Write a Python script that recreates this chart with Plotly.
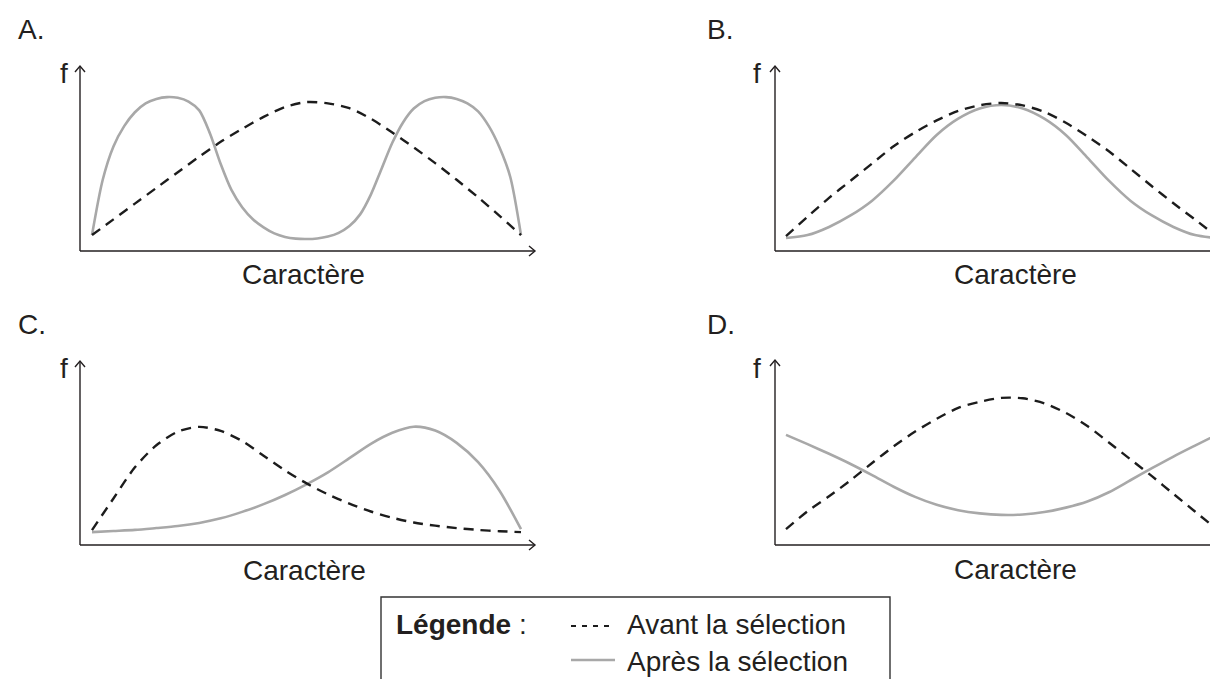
import plotly.graph_objects as go

# ---------------- data (x = Caractère, y = f) ----------------
x_half = [0, 0.5, 1, 1.5, 2, 2.5, 3, 3.5, 4, 4.5, 5, 5.5, 6, 6.5, 7, 7.5, 8, 8.5, 9, 9.5, 10]
x_quarter = [0, 0.25, 0.5, 0.75, 1, 1.25, 1.5, 1.75, 2, 2.25, 2.5, 2.75, 3, 3.25, 3.5, 3.75, 4,
             4.25, 4.5, 4.75, 5, 5.25, 5.5, 5.75, 6, 6.25, 6.5, 6.75, 7, 7.25, 7.5, 7.75, 8,
             8.25, 8.5, 8.75, 9, 9.25, 9.5, 9.75, 10]

a_avant_y = [0.86, 1.71, 2.56, 3.41, 4.26, 5.1, 5.9, 6.6, 7.25, 7.78, 8.05,
             7.98, 7.72, 7.15, 6.4, 5.6, 4.75, 3.85, 2.9, 1.9, 0.86]
a_apres_y = [0.86, 3.85, 5.65, 6.75, 7.5, 7.98, 8.22, 8.32, 8.28, 8.08, 7.6, 6.35, 4.7, 3.3, 2.37,
             1.72, 1.28, 0.95, 0.76, 0.67, 0.65, 0.68, 0.78, 0.98, 1.35, 1.98, 3.05, 4.45, 5.85,
             6.95, 7.7, 8.1, 8.28, 8.32, 8.22, 7.98, 7.55, 6.75, 5.6, 4.0, 0.86]

b_avant_y = [0.81, 1.85, 2.87, 3.8, 4.73, 5.66, 6.42, 7.06, 7.57, 7.88, 8.0,
             7.87, 7.52, 6.93, 6.2, 5.39, 4.45, 3.5, 2.58, 1.7, 0.81]
b_apres_y = [0.70, 0.86, 1.3, 1.92, 2.72, 3.8, 5.05, 6.27, 7.15, 7.7, 7.89,
             7.7, 7.15, 6.27, 5.05, 3.8, 2.72, 1.92, 1.3, 0.86, 0.70]

c_avant_y = [0.81, 2.53, 4.22, 5.42, 6.16, 6.42, 6.2, 5.65, 4.85, 4.05, 3.35,
             2.75, 2.25, 1.82, 1.48, 1.22, 1.05, 0.92, 0.82, 0.75, 0.70]
c_apres_y = [0.70, 0.76, 0.82, 0.92, 1.03, 1.2, 1.45, 1.8, 2.22, 2.72, 3.3,
             3.95, 4.72, 5.5, 6.1, 6.43, 6.22, 5.55, 4.5, 2.95, 0.86]

d_avant_y = [0.86, 1.82, 2.63, 3.5, 4.43, 5.33, 6.13, 6.82, 7.41, 7.74, 7.95,
             7.93, 7.66, 7.14, 6.43, 5.54, 4.63, 3.72, 2.76, 1.81, 0.86]
d_apres_y = [5.95, 5.45, 4.93, 4.38, 3.78, 3.15, 2.6, 2.17, 1.88, 1.71, 1.63,
             1.65, 1.78, 2.02, 2.35, 2.85, 3.5, 4.15, 4.78, 5.37, 5.95]

panel_labels = ["A.", "B.", "C.", "D."]
axis_x_label = "Caractère"
axis_y_label = "f"
legend_title = "<b>Légende</b> :"
series_names = ["Avant la sélection", "Après la sélection"]

# ---------------- layout helpers (pixel geometry) ----------------
W, H = 1218, 679
FONT = "Liberation Sans, Arial, sans-serif"
TXT = "#231f20"
AXC = "#231f20"
DASH_C = "#1c1c1c"
SOLID_C = "#a8a8a8"


def fx(p):
    return p / W


def fy(p):
    return 1 - p / H


panels = [
    dict(ax=72, axe=527, top=58, base=243, c0=84, c1=513, lab=(8, 22), f=(56, 65), cx=(295, 267),
         data=(x_half, a_avant_y, x_quarter, a_apres_y)),
    dict(ax=767, axe=1217, top=58, base=243, c0=778, c1=1208.5, lab=(697, 22), f=(749, 65), cx=(1007, 267),
         data=(x_half, b_avant_y, x_half, b_apres_y)),
    dict(ax=72, axe=527, top=353, base=537, c0=84, c1=513, lab=(8, 316), f=(56, 360), cx=(296, 562),
         data=(x_half, c_avant_y, x_half, c_apres_y)),
    dict(ax=767, axe=1217, top=352, base=537, c0=778, c1=1208.5, lab=(697, 316), f=(749, 360), cx=(1007, 561),
         data=(x_half, d_avant_y, x_half, d_apres_y)),
]

fig = go.Figure()
shapes = []
annotations = []
layout_axes = {}

for i, p in enumerate(panels):
    k = "" if i == 0 else str(i + 1)
    xa, ya = "x" + k, "y" + k
    scale = (p["c1"] - p["c0"]) / 10.0
    xr = [(p["ax"] - p["c0"]) / scale, (p["axe"] - p["c0"]) / scale]
    layout_axes["xaxis" + k] = dict(domain=[fx(p["ax"]), fx(p["axe"])], range=xr, visible=False,
                                    anchor=ya, fixedrange=True)
    layout_axes["yaxis" + k] = dict(domain=[fy(p["base"]), fy(p["top"])], range=[0, 10], visible=False,
                                    anchor=xa, fixedrange=True)
    bx, by, sx, sy = p["data"]
    fig.add_trace(go.Scatter(x=sx, y=sy, mode="lines", name=series_names[1], xaxis=xa, yaxis=ya,
                             line=dict(color=SOLID_C, width=2.6, shape="spline", smoothing=0.8),
                             showlegend=False, hoverinfo="skip"))
    fig.add_trace(go.Scatter(x=bx, y=by, mode="lines", name=series_names[0], xaxis=xa, yaxis=ya,
                             line=dict(color=DASH_C, width=2.4, dash="10px,7px", shape="spline", smoothing=0.8),
                             showlegend=False, hoverinfo="skip"))
    # axes lines
    shapes.append(dict(type="line", xref="paper", yref="paper", x0=fx(p["ax"]), y0=fy(p["base"]),
                       x1=fx(p["axe"]), y1=fy(p["base"]), line=dict(color=AXC, width=1.4)))
    shapes.append(dict(type="line", xref="paper", yref="paper", x0=fx(p["ax"]), y0=fy(p["base"]),
                       x1=fx(p["ax"]), y1=fy(p["top"]), line=dict(color=AXC, width=1.4)))
    # arrowheads
    e, b = p["axe"], p["base"]
    shapes.append(dict(type="path", xref="paper", yref="paper",
                       path=f"M {fx(e-6)},{fy(b-5)} L {fx(e)},{fy(b)} L {fx(e-6)},{fy(b+5)}",
                       line=dict(color=AXC, width=1.4)))
    a, t = p["ax"], p["top"]
    shapes.append(dict(type="path", xref="paper", yref="paper",
                       path=f"M {fx(a-5)},{fy(t+6)} L {fx(a)},{fy(t)} L {fx(a+5)},{fy(t+6)}",
                       line=dict(color=AXC, width=1.4)))
    # texts
    annotations.append(dict(text=panel_labels[i], x=fx(p["lab"][0]), y=fy(p["lab"][1]), xref="paper",
                            yref="paper", xanchor="left", yanchor="middle", showarrow=False,
                            font=dict(size=28, color=TXT, family=FONT)))
    annotations.append(dict(text=axis_y_label, x=fx(p["f"][0]), y=fy(p["f"][1]), xref="paper",
                            yref="paper", xanchor="center", yanchor="middle", showarrow=False,
                            font=dict(size=28, color=TXT, family=FONT)))
    annotations.append(dict(text=axis_x_label, x=fx(p["cx"][0]), y=fy(p["cx"][1]), xref="paper",
                            yref="paper", xanchor="center", yanchor="middle", showarrow=False,
                            font=dict(size=28, color=TXT, family=FONT)))

# ---------------- legend box ----------------
shapes.append(dict(type="rect", xref="paper", yref="paper", x0=fx(373), y0=fy(589), x1=fx(882), y1=fy(720),
                   line=dict(color="#333333", width=1.4), fillcolor="rgba(0,0,0,0)"))
shapes.append(dict(type="line", xref="paper", yref="paper", x0=fx(563), y0=fy(618), x1=fx(607), y1=fy(618),
                   line=dict(color=DASH_C, width=2.0, dash="5px,6px")))
shapes.append(dict(type="line", xref="paper", yref="paper", x0=fx(563), y0=fy(652), x1=fx(607), y1=fy(652),
                   line=dict(color=SOLID_C, width=2.4)))
annotations.append(dict(text=legend_title, x=fx(386), y=fy(616), xref="paper", yref="paper",
                        xanchor="left", yanchor="middle", showarrow=False,
                        font=dict(size=28, color=TXT, family=FONT)))
annotations.append(dict(text=series_names[0], x=fx(617), y=fy(616), xref="paper", yref="paper",
                        xanchor="left", yanchor="middle", showarrow=False,
                        font=dict(size=28, color=TXT, family=FONT)))
annotations.append(dict(text=series_names[1], x=fx(617), y=fy(653), xref="paper", yref="paper",
                        xanchor="left", yanchor="middle", showarrow=False,
                        font=dict(size=28, color=TXT, family=FONT)))

fig.update_layout(width=W, height=H, margin=dict(l=0, r=0, t=0, b=0), paper_bgcolor="white",
                  plot_bgcolor="rgba(0,0,0,0)", showlegend=False, shapes=shapes, annotations=annotations,
                  **layout_axes)

fig.write_html("out.html", config={"displayModeBar": False})
